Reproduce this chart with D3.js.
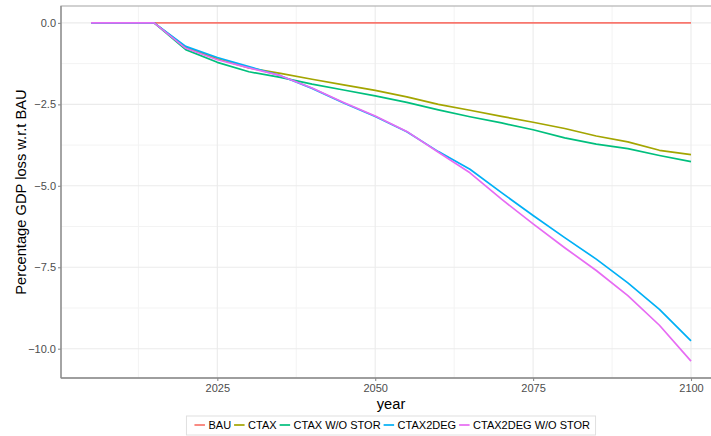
<!DOCTYPE html>
<html>
<head>
<meta charset="utf-8">
<script src="https://cdn.jsdelivr.net/npm/d3@7"></script>
<style>
  html, body { margin: 0; padding: 0; background: #fff; }
  svg { display: block; font-family: "Liberation Sans", Arial, sans-serif; }
</style>
</head>
<body>
<svg id="chart" width="711" height="436"></svg>
<script>
// Scenario results: GDP loss relative to business-as-usual, every 5 years
const years = [2005, 2010, 2015, 2020, 2025, 2030, 2035, 2040, 2045, 2050,
               2055, 2060, 2065, 2070, 2075, 2080, 2085, 2090, 2095, 2100];

const bau        = [0, 0, 0, 0, 0, 0, 0, 0, 0, 0, 0, 0, 0, 0, 0, 0, 0, 0, 0, 0];
const ctax       = [0, 0, 0, -0.75, -1.10, -1.38, -1.55, -1.73, -1.90, -2.07,
                    -2.27, -2.50, -2.68, -2.87, -3.05, -3.24, -3.47, -3.65, -3.91, -4.04];
const ctaxNoStor = [0, 0, 0, -0.82, -1.21, -1.50, -1.67, -1.88, -2.06, -2.24,
                    -2.44, -2.67, -2.88, -3.07, -3.28, -3.53, -3.72, -3.86, -4.07, -4.26];
const ctax2deg   = [0, 0, 0, -0.72, -1.06, -1.34, -1.62, -2.01, -2.46, -2.87,
                    -3.34, -3.95, -4.49, -5.21, -5.91, -6.59, -7.25, -7.98, -8.79, -9.76];
const ctax2degNoStor = [0, 0, 0, -0.78, -1.13, -1.38, -1.62, -2.00, -2.44, -2.86,
                    -3.33, -3.97, -4.60, -5.41, -6.17, -6.90, -7.60, -8.37, -9.28, -10.38];

const seriesNames  = ["BAU", "CTAX", "CTAX W/O STOR", "CTAX2DEG", "CTAX2DEG W/O STOR"];
const seriesValues = [bau, ctax, ctaxNoStor, ctax2deg, ctax2degNoStor];
const seriesColors = ["#F8766D", "#A3A500", "#00BF7D", "#00B0F6", "#E76BF3"];

const xTicks = [2025, 2050, 2075, 2100];
const xMinor = [2012.5, 2037.5, 2062.5, 2087.5];
const yTicks = [0, -2.5, -5, -7.5, -10];
const yMinor = [-1.25, -3.75, -6.25, -8.75];

const xTitle = "year";
const yTitle = "Percentage GDP loss w.r.t BAU";

// Panel geometry (the panel runs past the right edge of the canvas)
const panel = { left: 61, right: 721, top: 6, bottom: 378 };

const svg = d3.select("#chart");

// Scales with a 5% padding around the data range
const xExt = d3.extent(years);
const xPad = (xExt[1] - xExt[0]) * 0.05;
const x = d3.scaleLinear()
  .domain([xExt[0] - xPad, xExt[1] + xPad])
  .range([panel.left, panel.right]);

const allVals = seriesValues.flat();
const yExt = d3.extent(allVals);
const yPad = (yExt[1] - yExt[0]) * 0.05;
const y = d3.scaleLinear()
  .domain([yExt[0] - yPad, yExt[1] + yPad])
  .range([panel.bottom, panel.top]);

// Grid lines
const grid = svg.append("g");
grid.selectAll("line.ymin").data(yMinor).join("line")
  .attr("x1", panel.left).attr("x2", panel.right)
  .attr("y1", d => y(d)).attr("y2", d => y(d))
  .attr("stroke", "#F3F3F3").attr("stroke-width", 1);
grid.selectAll("line.xmin").data(xMinor).join("line")
  .attr("y1", panel.top).attr("y2", panel.bottom)
  .attr("x1", d => x(d)).attr("x2", d => x(d))
  .attr("stroke", "#F3F3F3").attr("stroke-width", 1);
grid.selectAll("line.ymaj").data(yTicks).join("line")
  .attr("x1", panel.left).attr("x2", panel.right)
  .attr("y1", d => y(d)).attr("y2", d => y(d))
  .attr("stroke", "#EBEBEB").attr("stroke-width", 1.1);
grid.selectAll("line.xmaj").data(xTicks).join("line")
  .attr("y1", panel.top).attr("y2", panel.bottom)
  .attr("x1", d => x(d)).attr("x2", d => x(d))
  .attr("stroke", "#EBEBEB").attr("stroke-width", 1.1);

// Panel border
svg.append("rect")
  .attr("x", panel.left).attr("y", panel.top)
  .attr("width", panel.right - panel.left)
  .attr("height", panel.bottom - panel.top)
  .attr("fill", "none").attr("stroke", "#B3B3B3").attr("stroke-width", 1.2);

// Lines
const line = d3.line()
  .x((d, i) => x(years[i]))
  .y(d => y(d));

svg.append("g").selectAll("path").data(seriesValues).join("path")
  .attr("d", d => line(d))
  .attr("fill", "none")
  .attr("stroke", (d, i) => seriesColors[i])
  .attr("stroke-width", 1.7)
  .attr("stroke-linejoin", "round");

// Axes
const yAxis = svg.append("g")
  .attr("transform", `translate(${panel.left},0)`)
  .call(d3.axisLeft(y).tickValues(yTicks).tickFormat(d3.format(".1f"))
    .tickSize(3).tickPadding(2));
const xAxis = svg.append("g")
  .attr("transform", `translate(0,${panel.bottom})`)
  .call(d3.axisBottom(x).tickValues(xTicks).tickFormat(d3.format("d"))
    .tickSize(3).tickPadding(3));

[xAxis, yAxis].forEach(ax => {
  ax.select(".domain").attr("stroke", "#8C8C8C").attr("stroke-width", 1.3);
  ax.selectAll(".tick line").attr("stroke", "#8C8C8C").attr("stroke-width", 1.1);
  ax.selectAll(".tick text")
    .attr("fill", "#4D4D4D")
    .style("font-size", "11px")
    .style("font-family", "'Liberation Sans', Arial, sans-serif");
});
yAxis.select(".domain").attr("d", `M0,${panel.top}V${panel.bottom}`);
xAxis.select(".domain").attr("d", `M${panel.left},0H${panel.right}`);

// Axis titles
const cx = (panel.left + panel.right) / 2;
svg.append("text")
  .attr("x", cx).attr("y", 409)
  .attr("text-anchor", "middle")
  .style("font-size", "14.7px")
  .attr("fill", "#000")
  .text(xTitle);
svg.append("text")
  .attr("transform", `translate(26,${(panel.top + panel.bottom) / 2}) rotate(-90)`)
  .attr("text-anchor", "middle")
  .style("font-size", "14.7px")
  .attr("fill", "#000")
  .text(yTitle);

// Legend
const legend = svg.append("g");
const keyLen = 10.5, keyGap = 3.5, itemGap = 3, padL = 8, padR = 5.5;
const legY = 425;
const items = legend.selectAll("g.item").data(seriesNames).join("g");
items.append("line")
  .attr("x1", 0).attr("x2", keyLen)
  .attr("y1", 0).attr("y2", 0)
  .attr("stroke", (d, i) => seriesColors[i])
  .attr("stroke-width", 1.7);
items.append("text")
  .attr("x", keyLen + keyGap).attr("y", 4)
  .style("font-size", "11px")
  .attr("fill", "#000")
  .text(d => d);

let widths = [];
items.each(function () {
  widths.push(d3.select(this).select("text").node().getComputedTextLength());
});
const total = padL + d3.sum(widths, w => keyLen + keyGap + w) + itemGap * (widths.length - 1) + padR;
const startX = cx - total / 2;
let pos = startX + padL;
items.attr("transform", (d, i) => {
  const t = `translate(${pos},${legY})`;
  pos += keyLen + keyGap + widths[i] + itemGap;
  return t;
});
legend.insert("rect", ":first-child")
  .attr("x", startX).attr("y", 416)
  .attr("width", total).attr("height", 19)
  .attr("fill", "#fff")
  .attr("stroke", "#E0E0E0").attr("stroke-width", 1);
</script>
</body>
</html>
